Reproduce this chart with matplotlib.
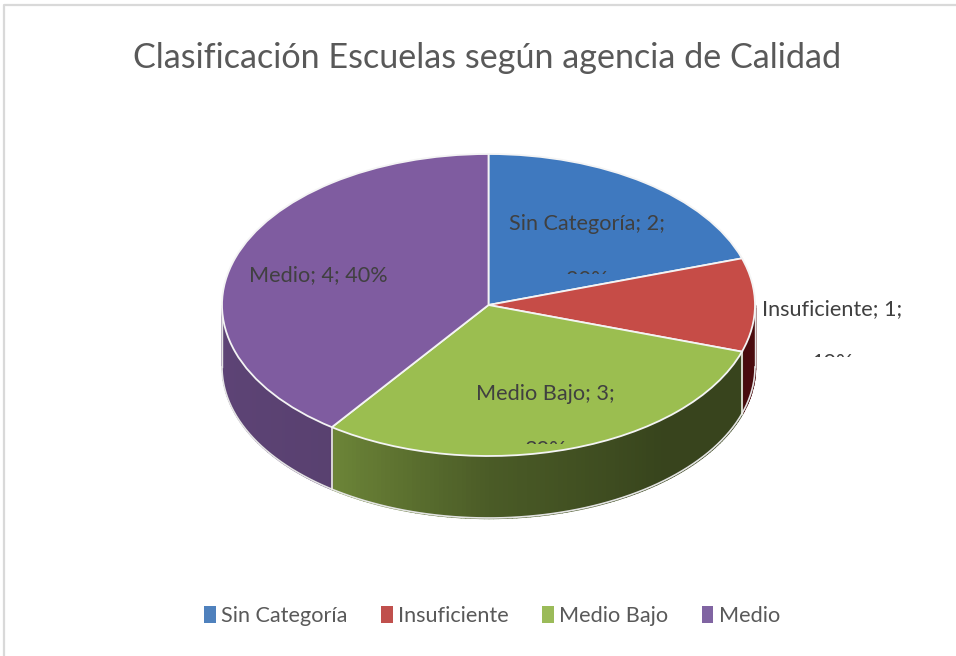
import numpy as np
import matplotlib
matplotlib.use("Agg")
import matplotlib.pyplot as plt
from matplotlib.patches import Patch
from matplotlib.transforms import Bbox

W, H = 956, 656
plt.rcParams["font.family"] = ["Lato", "DejaVu Sans"]

TITLE = "Clasificación Escuelas según agencia de Calidad"
categories = ["Sin Categoría", "Insuficiente", "Medio Bajo", "Medio"]
values = [2, 1, 3, 4]
colors_top = ["#3f79bf", "#c64c47", "#9bbe50", "#7f5ca0"]
colors_legend = ["#4f81bd", "#c0504d", "#9bbb59", "#8064a2"]

# pie geometry in pixels of the reference
CX, CY, RX, RY, DEPTH = 488.5, 305, 266.5, 151, 62

fig = plt.figure(figsize=(W / 100, H / 100), dpi=100, facecolor="white")
ax = fig.add_axes([0, 0, 1, 1])


def to_fig(x, y):
    return x / W, 1 - y / H


wedges, _ = ax.pie(
    values, colors=colors_top, startangle=90, counterclock=False, radius=1,
    wedgeprops={"edgecolor": "#f4f4f4", "linewidth": 1.3, "zorder": 3},
)
ax.set_aspect("auto")
ax.set_xlim(-CX / RX, (W - CX) / RX)
ax.set_ylim((CY - H) / RY, CY / RY)
ax.axis("off")

# side wall, shaded along the visible half of the rim
depth = DEPTH / RY
edges = np.cumsum([0] + values) / sum(values) * 360
shade_at = [90, 108, 140, 180, 216, 240, 270]
shade = [0.40, 0.36, 0.36, 0.48, 0.70, 0.72, 0.74]
wall_rgb = [matplotlib.colors.to_rgb(c) for c in colors_top]
wall_rgb[1] = (0.78, 0.12, 0.15)
for i in range(len(values)):
    lo, hi = max(edges[i], 90), min(edges[i + 1], 270)
    if lo >= hi:
        continue
    steps = np.arange(lo, hi + 1, 1.0)
    for a, b in zip(steps[:-1], steps[1:]):
        th = np.radians([a, b])
        f = np.interp((a + b) / 2, shade_at, shade)
        col = tuple(np.array(wall_rgb[i]) * f)
        ax.fill_between(np.sin(th), np.cos(th) - depth, np.cos(th),
                        color=col, linewidth=1.0, zorder=1)

# wall outline and separators
th = np.radians(np.linspace(90, 270, 200))
ax.plot(np.sin(th), np.cos(th) - depth, color="#e4e4e4", lw=1.2, zorder=2)
for a in [90, 270]:
    r = np.radians(a)
    ax.plot([np.sin(r)] * 2, [np.cos(r), np.cos(r) - depth], color="#e4e4e4", lw=1, zorder=2)
for e in edges:
    if 90 < e < 270:
        r = np.radians(e)
        ax.plot([np.sin(r)] * 2, [np.cos(r), np.cos(r) - depth], color="#f0f0e8", lw=1.2, zorder=2)

# chart frame (top and left only are visible in the crop)
fig.add_artist(plt.Line2D([4 / W, 4 / W, 1], [0, 1 - 5 / H, 1 - 5 / H], color="#d9d9d9", lw=1.6))

x, y = to_fig(487, 58)
fig.text(x, y, TITLE, ha="center", va="center", fontsize=24.6, color="#595959")

# data labels: the second line is cut off as in the reference
total = sum(values)
label_pos = [(587, 224, 274), (832, 309, 357), (545, 394, 444)]
for i, (px, py, cut) in enumerate(label_pos):
    x, y = to_fig(px, py)
    fig.text(x, y, f"{categories[i]}; {values[i]};", ha="center", va="center",
             fontsize=15.6, color="#404040", zorder=5)
    x, y = to_fig(px, cut - 4)
    t = fig.text(x, y, f"{values[i] * 100 // total}%", ha="center", va="top",
                 fontsize=15.6, color="#404040", zorder=5)
    t.set_clip_box(Bbox([[0, H - cut], [W, H]]))
    t.set_clip_on(True)
x, y = to_fig(318, 275)
fig.text(x, y, f"{categories[3]}; {values[3]}; {values[3] * 100 // total}%", ha="center", va="center",
         fontsize=15.6, color="#404040", zorder=5)

handles = [Patch(facecolor=c, edgecolor="none") for c in colors_legend]
x, y = to_fig(492, 616)
fig.legend(handles, categories, loc="center", bbox_to_anchor=(x, y), ncol=4, frameon=False,
           fontsize=15.6, labelcolor="#595959", handlelength=0.55, handleheight=0.8,
           handletextpad=0.25, columnspacing=1.53)

fig.savefig("out.png", dpi=100)
